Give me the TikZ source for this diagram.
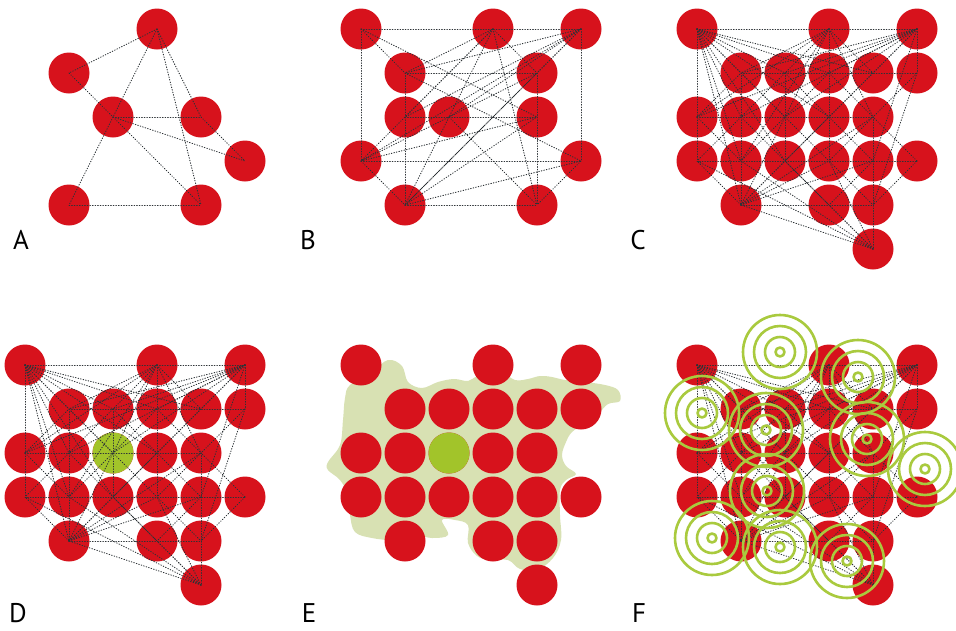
\documentclass[tikz,border=0pt]{standalone}
\usepackage{fontspec}
\newfontfamily\panelfont{PT Sans}
\usetikzlibrary{positioning}
\definecolor{cellRed}{HTML}{D7121C}
\definecolor{cellGreen}{HTML}{A2C42A}
\definecolor{ringGreen}{HTML}{A9CA3E}
\definecolor{blobSage}{HTML}{D8E1B3}
\definecolor{linkGrey}{HTML}{2E3337}

% grid positions of the big networks (col/row)
\newcommand\meshcells{0/0,3/0,5/0,1/1,2/1,3/1,4/1,5/1,0/2,1/2,2/2,3/2,4/2,0/3,1/3,2/3,3/3,4/3,5/3,1/4,3/4,4/4,4/5}
\newcommand\meshlinks{00/30,00/11,00/21,00/31,00/41,00/12,00/22,00/32,00/03,00/13,00/23,00/14,
 30/50,30/11,30/21,30/33,30/41,30/02,30/22,30/42,30/13,
 50/11,50/21,50/31,50/41,50/51,50/12,50/22,50/32,50/02,50/43,
 51/42,51/44,11/51,02/42,03/53,14/44,11/14,21/23,42/45,53/42,53/44,
 45/14,45/34,45/03,45/13,45/23,45/33,
 14/03,14/23,14/33,14/43,14/22,14/32,14/42,
 11/22,21/12,31/42,41/32,22/33,32/23,02/13,12/03,32/43,42/33,23/34,33/44,43/34,12/23,22/13,02/11,21/32,31/22}

\begin{document}
\begin{tikzpicture}[x=1pt,y=-1pt,line cap=round,line join=round]
\useasboundingbox[fill=white] (0,0) rectangle (956,630);
\tikzset{cell/.style={circle,fill=cellRed,minimum size=41pt,inner sep=0pt},
 seed/.style={cell,fill=cellGreen},
 link/.style={draw=linkGrey,line width=0.9pt,dash pattern=on 0.7pt off 1.9pt},
 ring/.style={draw=ringGreen,line width=2.6pt},
 tag/.style={font=\panelfont\fontsize{27}{27}\selectfont,text=black}}

% A
\node[cell] (a30) at (157,29) {};
\node[cell] (a11) at (69,73) {};
\node[cell] (a22) at (113,117) {};
\node[cell] (a42) at (201,117) {};
\node[cell] (a53) at (245,161) {};
\node[cell] (a14) at (69,205) {};
\node[cell] (a44) at (201,205) {};
\foreach \u/\v in {30/11,30/22,30/42,30/44,11/22,22/42,22/53,22/14,22/44,42/53,14/44}
  \draw[link] (a\u.center) -- (a\v.center);
\node[tag] (tagA) at (21,240) {A};

% B
\node[cell] (b00) at (361,29) {};
\node[cell] (b30) at (493,29) {};
\node[cell] (b50) at (581,29) {};
\node[cell] (b11) at (405,73) {};
\node[cell] (b41) at (537,73) {};
\node[cell] (b12) at (405,117) {};
\node[cell] (b22) at (449,117) {};
\node[cell] (b42) at (537,117) {};
\node[cell] (b03) at (361,161) {};
\node[cell] (b53) at (581,161) {};
\node[cell] (b14) at (405,205) {};
\node[cell] (b44) at (537,205) {};
\foreach \u/\v in {00/50,00/03,50/53,03/53,14/44,00/11,00/42,11/53,30/11,30/12,30/03,30/14,30/44,30/41,
  50/11,50/41,50/22,50/03,50/14,50/12,11/41,11/14,12/42,41/44,03/14,53/44,03/41,03/42,14/41,14/42,14/53,22/44}
  \draw[link] (b\u.center) -- (b\v.center);
\node[tag] (tagB) at (308,240) {B};

% E (sage spread under the cells)
\fill[blobSage] plot[smooth cycle,tension=0.6] coordinates {(350,385) (372,372) (388,360) (402,366) (408,382)
  (422,388) (438,382) (454,379) (468,381) (478,376) (500,372) (515,380) (528,379) (540,376) (552,377)
  (565,380) (585,382) (605,385) (618,390) (620,401) (608,404) (598,414) (584,424) (572,432) (566,442)
  (562,455) (566,466) (576,474) (566,480) (560,490) (560,515) (561,540) (553,558) (537,570) (520,569)
  (508,560) (490,560) (477,556) (468,543) (468,525) (455,520) (442,520) (448,535) (432,538) (415,535)
  (395,540) (372,538) (355,532) (350,515) (348,495) (340,480) (328,470) (328,462) (340,445) (343,420) (345,398)};

% C, D, E, F cells
\foreach \p/\ox/\oy in {c/697/29,d/25/365,e/361/365,f/697/365}
  \foreach \i/\j in \meshcells
    \node[cell] (\p\i\j) at (\ox+44*\i,\oy+44*\j) {};
\node[seed] (d22s) at (d22) {};
\node[seed] (e22s) at (e22) {};

\foreach \p in {c,d,f}
  \foreach \u/\v in \meshlinks
    \draw[link] (\p\u.center) -- (\p\v.center);

% F rings
\foreach \cx/\cy in {780/352,858/377,702/413,766/430,867/439,925/469,767/491,712/538,780/547,847/561}{
  \draw[ring] (\cx,\cy) circle (37pt);
  \draw[ring] (\cx,\cy) circle (26pt);
  \draw[ring] (\cx,\cy) circle (15pt);
  \draw[ring] (\cx,\cy) circle (4.5pt);
}

\node[tag] (tagC) at (638,240) {C};
\node[tag] (tagD) at (18,613) {D};
\node[tag] (tagE) at (309,613) {E};
\node[tag] (tagF) at (639,613) {F};
\end{tikzpicture}
\end{document}
